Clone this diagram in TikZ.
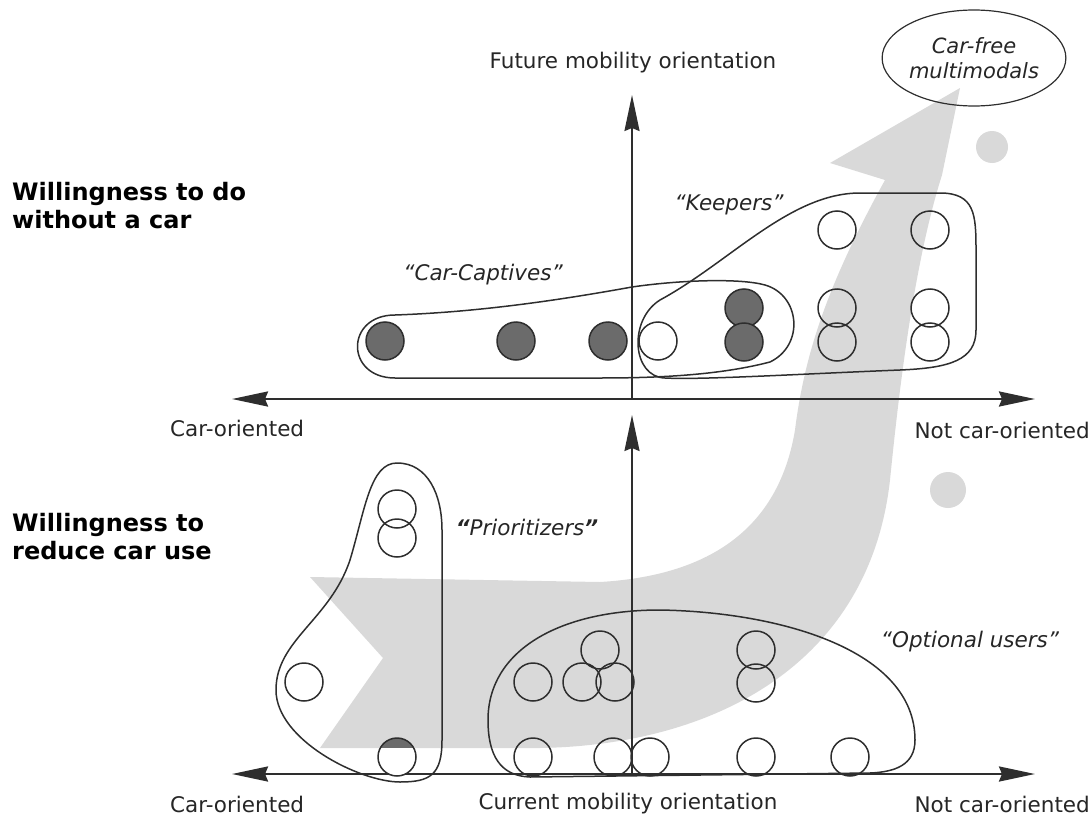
\documentclass[tikz,border=0pt]{standalone}
\usepackage{fontspec}
\setmainfont{DejaVu Sans}
\usepackage{tikz}
\usetikzlibrary{arrows.meta}
\usetikzlibrary{shapes.geometric}
\usetikzlibrary{positioning}

\definecolor{axisgray}{HTML}{2E2E2E}
\definecolor{dotgray}{HTML}{6B6B6B}
\definecolor{swoosh}{HTML}{D9D9D9}

\begin{document}
\begin{tikzpicture}[x=1pt, y=-1pt,
  unit/.style={circle, draw=axisgray, line width=1.5pt, minimum size=38pt, inner sep=0pt},
  full/.style={unit, fill=dotgray},
  outline/.style={draw=axisgray, line width=1.5pt},
  axis/.style={draw=axisgray, line width=2.5pt, {Stealth[length=36pt, width=15pt, inset=3pt]}-{Stealth[length=36pt, width=15pt, inset=3pt]}},
  vaxis/.style={draw=axisgray, line width=2pt, -{Stealth[length=36pt, width=15pt, inset=3pt]}},
  lbl/.style={font=\fontsize{21.5}{25}\selectfont, text=black!85, inner sep=0pt},
  group/.style={font=\fontsize{21.5}{25}\selectfont\itshape, text=black!85, inner sep=0pt},
  title/.style={font=\fontsize{24}{28}\selectfont\bfseries, align=left, anchor=west, inner sep=0pt}]
\useasboundingbox (0,0) rectangle (1092,816);

% grey arrow behind the charts
\fill [swoosh] (310,577) -- (383,658) -- (320,748) -- (540,748)
  .. controls (720,745) and (870,660) .. (890,480)
  .. controls (900,380) and (915,260) .. (942,175)
  -- (960,88) -- (830,163) -- (885,180)
  .. controls (830,280) and (805,350) .. (795,430)
  .. controls (780,520) and (720,575) .. (600,582) -- cycle;
\fill [swoosh] (992,147) circle [radius=16];
\fill [swoosh] (948,490) circle [radius=18];

% axes
\coordinate (ul) at (232,399);
\coordinate (ur) at (1035,399);
\coordinate (uo) at (632,399);
\coordinate (ut) at (632,95);
\coordinate (ll) at (232,774);
\coordinate (lr) at (1035,774);
\coordinate (lo) at (632,774);
\coordinate (lt) at (632,415);
\draw [axis] (ul) -- (ur);
\draw [vaxis] (uo) -- (ut);
\draw [axis] (ll) -- (lr);
\draw [vaxis] (lo) -- (lt);

% groups, upper chart
\draw [outline] (395,315) .. controls (480,312) and (560,300) .. (632,287)
  .. controls (680,280) and (740,278) .. (765,285)
  .. controls (800,295) and (805,345) .. (770,362)
  .. controls (720,375) and (660,378) .. (600,378) -- (395,378)
  .. controls (345,378) and (345,315) .. (395,315) -- cycle;
\draw [outline] (660,300) .. controls (730,262) and (790,193) .. (860,193) -- (940,193)
  .. controls (975,193) and (976,215) .. (976,250) -- (976,330)
  .. controls (976,360) and (950,368) .. (900,370)
  .. controls (800,374) and (700,380) .. (665,378)
  .. controls (632,377) and (628,320) .. (660,300) -- cycle;

% groups, lower chart
\draw [outline] (397,463) .. controls (428,463) and (442,495) .. (442,530) -- (442,740)
  .. controls (442,775) and (430,782) .. (400,782)
  .. controls (360,782) and (276,740) .. (276,690)
  .. controls (276,640) and (330,620) .. (350,560)
  .. controls (365,510) and (370,463) .. (397,463) -- cycle;
\draw [outline] (530,777) .. controls (500,776) and (488,755) .. (488,720)
  .. controls (488,650) and (560,610) .. (660,610)
  .. controls (780,612) and (915,650) .. (915,740)
  .. controls (915,765) and (895,772) .. (870,773) -- cycle;

% people, upper chart
\node (cap1) [full] at (385,341) {};
\node (cap2) [full] at (516,341) {};
\node (cap3) [full] at (608,341) {};
\node (both1) [unit] at (658,341) {};
\node (both2) [full] at (744,308) {};
\node (both3) [full] at (744,342) {};
\node (keep1) [unit] at (837,230) {};
\node (keep2) [unit] at (837,308) {};
\node (keep3) [unit] at (837,342) {};
\node (keep4) [unit] at (930,230) {};
\node (keep5) [unit] at (930,308) {};
\node (keep6) [unit] at (930,342) {};

% people, lower chart
\node (prio1) [unit] at (397,509) {};
\node (prio2) [unit] at (397,538) {};
\node (prio3) [unit] at (304,682) {};
\begin{scope}
  \clip (397,757) circle [radius=19];
  \fill [white] (370,730) rectangle (425,790);
  \fill [dotgray] (370,730) rectangle (425,748);
\end{scope}
\node (prio4) [unit] at (397,757) {};
\node (opt1) [unit] at (600,650) {};
\node (opt2) [unit] at (533,682) {};
\node (opt3) [unit] at (582,682) {};
\node (opt4) [unit] at (615,682) {};
\node (opt5) [unit] at (756,650) {};
\node (opt6) [unit] at (756,683) {};
\node (opt7) [unit] at (533,757) {};
\node (opt8) [unit] at (613,757) {};
\node (opt9) [unit] at (650,757) {};
\node (opt10) [unit] at (756,757) {};
\node (opt11) [unit] at (850,757) {};

% labels
\node (future) [lbl] at (633,63) {Future mobility orientation};
\node (carfree) [ellipse, draw=axisgray, line width=1.2pt, minimum width=182pt, minimum height=96pt, inner sep=0pt,
  align=center, font=\fontsize{21}{25}\selectfont\itshape, text=black!85] at (974,58) {Car-free\\multimodals};
\node (upleft) [lbl, anchor=west] at (170,428) {Car-oriented};
\node (upright) [lbl, anchor=east] at (1090,430) {Not car-oriented};
\node (lowleft) [lbl, anchor=west] at (170,804) {Car-oriented};
\node (current) [lbl] at (628,804) {Current mobility orientation};
\node (lowright) [lbl, anchor=east] at (1090,804) {Not car-oriented};
\node (captives) [group] at (483,275) {``Car-Captives''};
\node (keepers) [group] at (729,205) {``Keepers''};
\node (prioritizers) [group] at (527,527) {\textbf{``}Prioritizers\textbf{''}};
\node (optional) [group] at (970,642) {``Optional users''};
\node (dowithout) [title] at (12,206) {Willingness to do\\without a car};
\node (reduce) [title] at (12,537) {Willingness to\\reduce car use};
\end{tikzpicture}
\end{document}
